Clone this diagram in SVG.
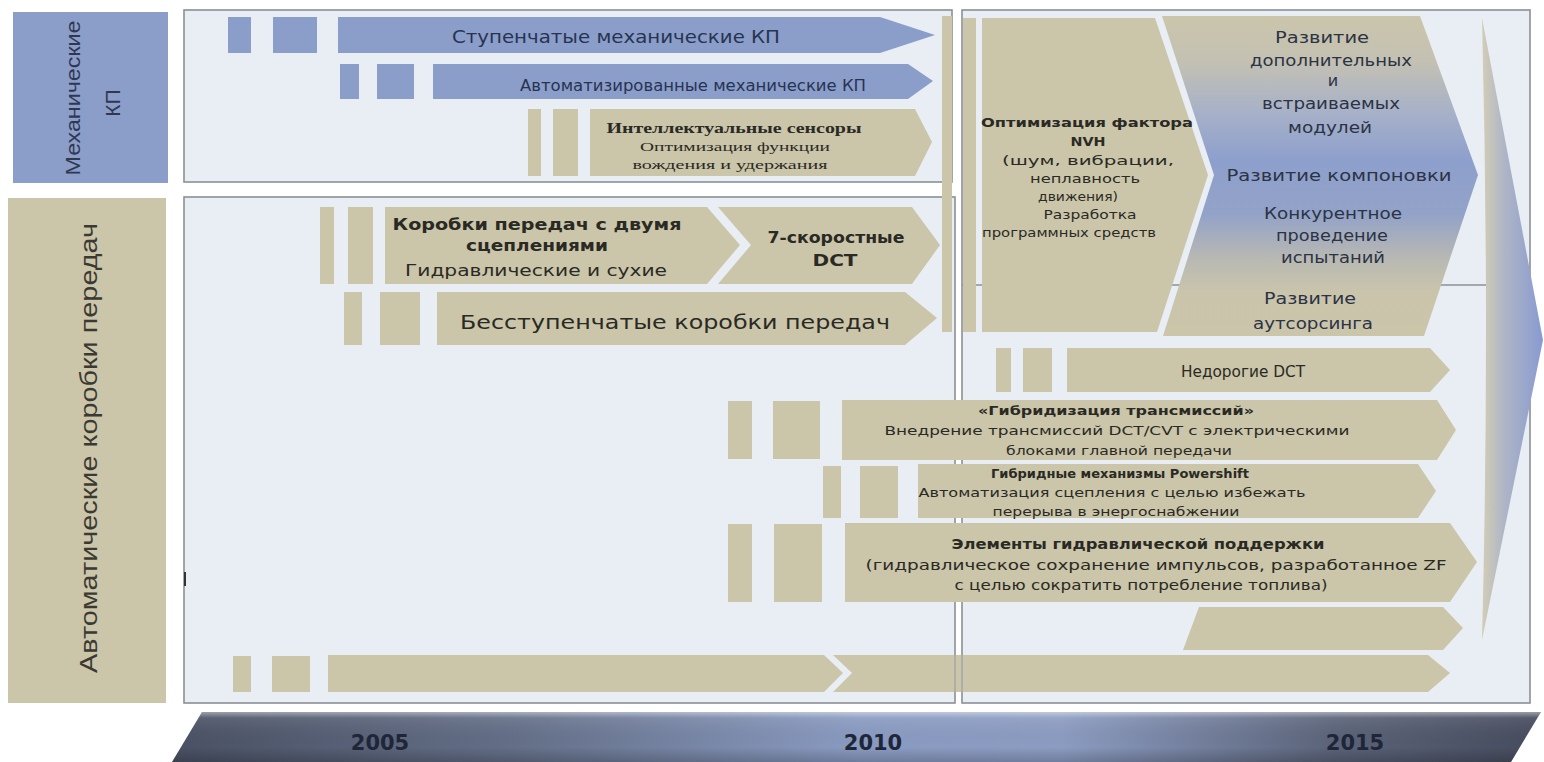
<svg xmlns="http://www.w3.org/2000/svg" width="1544" height="762" viewBox="0 0 1544 762">
<defs>
  <linearGradient id="gBT" x1="0" y1="0" x2="0" y2="1">
    <stop offset="0" stop-color="#cbc5ab"/>
    <stop offset="0.14" stop-color="#c4c1b3"/>
    <stop offset="0.3" stop-color="#a7b1c8"/>
    <stop offset="0.45" stop-color="#8d9fcc"/>
    <stop offset="0.62" stop-color="#93a2c7"/>
    <stop offset="0.76" stop-color="#b9b9b3"/>
    <stop offset="0.86" stop-color="#c9c4ab"/>
    <stop offset="1" stop-color="#cbc5aa"/>
  </linearGradient>
  <linearGradient id="gTri" x1="0" y1="0" x2="1" y2="0">
    <stop offset="0" stop-color="#d3cdb6"/>
    <stop offset="0.35" stop-color="#b0b6c6"/>
    <stop offset="1" stop-color="#889ad0"/>
  </linearGradient>
  <linearGradient id="gBar" x1="0" y1="0" x2="1" y2="0">
    <stop offset="0" stop-color="#4a5164"/>
    <stop offset="0.25" stop-color="#646f88"/>
    <stop offset="0.5" stop-color="#8a9bc2"/>
    <stop offset="0.65" stop-color="#8c9cc2"/>
    <stop offset="0.85" stop-color="#5b6379"/>
    <stop offset="1" stop-color="#464c5e"/>
  </linearGradient>
  <linearGradient id="gBarV" x1="0" y1="0" x2="0" y2="1">
    <stop offset="0" stop-color="#ffffff" stop-opacity="0.45"/>
    <stop offset="0.12" stop-color="#ffffff" stop-opacity="0.08"/>
    <stop offset="0.7" stop-color="#000000" stop-opacity="0"/>
    <stop offset="1" stop-color="#000000" stop-opacity="0.2"/>
  </linearGradient>
</defs>
<style>
  .panel{fill:#e8eef4;stroke:#8b9096;stroke-width:1.6}
  .tan{fill:#cbc5aa}
  .blue{fill:#8b9dc9}
  .sans{font-family:"DejaVu Sans","Liberation Sans",sans-serif}
  .serif{font-family:"Liberation Serif","DejaVu Serif",serif}
  .tb{fill:#263452}
  .tt{fill:#2a2a24}
  .tg{fill:#2b3345}
  .b{font-weight:bold}
  .mid{text-anchor:middle}
  .yr{font-family:"DejaVu Sans","Liberation Sans",sans-serif;font-weight:bold;font-size:21px;fill:#1e2638;text-anchor:middle}
  .lab{font-family:"Liberation Sans","Arial",sans-serif;text-anchor:middle}
</style>
<rect width="1544" height="762" fill="#ffffff"/>

<g id="label-mech">
  <rect x="13" y="12" width="155" height="171" class="blue"/>
  <text class="lab" font-size="21" fill="#2f3850" textLength="155" lengthAdjust="spacingAndGlyphs" transform="translate(80,98) rotate(-90)">Механические</text>
  <text class="lab" font-size="21" fill="#2f3850" transform="translate(120,103) rotate(-90)">КП</text>
</g>
<g id="label-auto">
  <rect x="8" y="198" width="158" height="505" class="tan"/>
  <text class="lab" font-size="23" fill="#3a3a33" textLength="450" lengthAdjust="spacingAndGlyphs" transform="translate(97,448) rotate(-90)">Автоматические коробки передач</text>
</g>

<g id="panels">
  <rect x="184" y="10" width="768" height="172" class="panel"/>
  <rect x="184" y="197" width="771" height="506" class="panel"/>
  <rect x="962" y="10" width="568" height="693" class="panel"/>
  <line x1="962" y1="285" x2="1530" y2="285" stroke="#8b9096" stroke-width="1.5"/>
  <path d="M185,572 L185,586" stroke="#333" stroke-width="2"/>
</g>

<g id="timeline">
  <path d="M202,712 H1541 L1511,762 H172 Z" fill="url(#gBar)"/>
  <path d="M202,712 H1541 L1511,762 H172 Z" fill="url(#gBarV)"/>
  <text class="yr" x="380" y="750">2005</text>
  <text class="yr" x="873" y="750">2010</text>
  <text class="yr" x="1355" y="750">2015</text>
</g>

<g id="big-arrow">
  <path d="M1482,18 L1543,340 L1482,640 Q1490,330 1482,18 Z" fill="url(#gTri)"/>
</g>

<g id="row-stupen">
  <rect x="228" y="17" width="23" height="36" class="blue"/>
  <rect x="273" y="17" width="44" height="36" class="blue"/>
  <path d="M338,17 H880 L935,35 L880,53 H338 Z" class="blue"/>
  <text class="sans tb mid" x="616" y="43" font-size="17" textLength="328" lengthAdjust="spacingAndGlyphs">Ступенчатые механические КП</text>
</g>

<g id="row-amt">
  <rect x="340" y="64" width="19" height="35" class="blue"/>
  <rect x="377" y="64" width="37" height="35" class="blue"/>
  <path d="M433,64 H908 L933,81 L908,99 H433 Z" class="blue"/>
  <text class="sans tb mid" x="693" y="91" font-size="16" textLength="346" lengthAdjust="spacingAndGlyphs">Автоматизированные механические КП</text>
</g>

<g id="row-sensors">
  <rect x="528" y="109" width="13" height="67" class="tan"/>
  <rect x="553" y="109" width="25" height="67" class="tan"/>
  <path d="M590,109 H915 L932,142 L915,176 H590 Z" class="tan"/>
  <text class="serif tt b mid" x="734" y="133" font-size="14" textLength="255" lengthAdjust="spacingAndGlyphs">Интеллектуальные сенсоры</text>
  <text class="serif tt mid" x="735" y="151" font-size="13" textLength="190" lengthAdjust="spacingAndGlyphs">Оптимизация функции</text>
  <text class="serif tt mid" x="730" y="169" font-size="13" textLength="195" lengthAdjust="spacingAndGlyphs">вождения и удержания</text>
</g>

<g id="row-dct">
  <rect x="320" y="207" width="14" height="77" class="tan"/>
  <rect x="348" y="207" width="25" height="77" class="tan"/>
  <path d="M385,207 H707 L740,245 L707,284 H385 Z" class="tan"/>
  <text class="sans tt b mid" x="537" y="230" font-size="16" textLength="289" lengthAdjust="spacingAndGlyphs">Коробки передач с двумя</text>
  <text class="sans tt b mid" x="537" y="251" font-size="16" textLength="142" lengthAdjust="spacingAndGlyphs">сцеплениями</text>
  <text class="sans tt mid" x="536" y="276" font-size="16" textLength="262" lengthAdjust="spacingAndGlyphs">Гидравлические и сухие</text>
</g>

<g id="row-dct7">
  <path d="M718,207 H912 L940,245 L912,284 H718 L751,245 Z" class="tan"/>
  <text class="sans tt b mid" x="836" y="243" font-size="16" textLength="137" lengthAdjust="spacingAndGlyphs">7-скоростные</text>
  <text class="sans tt b mid" x="835" y="266" font-size="16" textLength="45" lengthAdjust="spacingAndGlyphs">DCT</text>
</g>

<g id="row-cvt">
  <rect x="344" y="292" width="18" height="53" class="tan"/>
  <rect x="380" y="292" width="40" height="53" class="tan"/>
  <path d="M437,292 H905 L937,318 L905,345 H437 Z" class="tan"/>
  <text class="sans tt mid" x="675" y="329" font-size="19" textLength="430" lengthAdjust="spacingAndGlyphs">Бесступенчатые коробки передач</text>
</g>

<g id="row-nvh">
  <rect x="942" y="16" width="10" height="316" class="tan"/>
  <rect x="963" y="18" width="13" height="314" class="tan"/>
  <path d="M982,18 H1155 L1208,175 L1157,332 H982 Z" class="tan"/>
  <text class="sans tt b mid" x="1087" y="127" font-size="13" textLength="212" lengthAdjust="spacingAndGlyphs">Оптимизация фактора</text>
  <text class="sans tt b mid" x="1088" y="146" font-size="13" textLength="35" lengthAdjust="spacingAndGlyphs">NVH</text>
  <text class="sans tt mid" x="1088" y="165" font-size="13" textLength="172" lengthAdjust="spacingAndGlyphs">(шум, вибрации,</text>
  <text class="sans tt mid" x="1085" y="183" font-size="13" textLength="110" lengthAdjust="spacingAndGlyphs">неплавность</text>
  <text class="sans tt mid" x="1078" y="201" font-size="13" textLength="80" lengthAdjust="spacingAndGlyphs">движения)</text>
  <text class="sans tt mid" x="1090" y="219" font-size="13" textLength="93" lengthAdjust="spacingAndGlyphs">Разработка</text>
  <text class="sans tt mid" x="1069" y="237" font-size="13" textLength="174" lengthAdjust="spacingAndGlyphs">программных средств</text>
</g>

<g id="row-develop">
  <path d="M1162,16 H1420 L1478,175 L1424,336 H1163 L1214,175 Z" fill="url(#gBT)"/>
  <text class="sans tg mid" x="1322" y="43" font-size="16" textLength="94" lengthAdjust="spacingAndGlyphs">Развитие</text>
  <text class="sans tg mid" x="1331" y="66" font-size="16" textLength="162" lengthAdjust="spacingAndGlyphs">дополнительных</text>
  <text class="sans tg mid" x="1333" y="86" font-size="16">и</text>
  <text class="sans tg mid" x="1331" y="109" font-size="16" textLength="138" lengthAdjust="spacingAndGlyphs">встраиваемых</text>
  <text class="sans tg mid" x="1330" y="133" font-size="16" textLength="84" lengthAdjust="spacingAndGlyphs">модулей</text>
  <text class="sans tg mid" x="1339" y="181" font-size="16" textLength="225" lengthAdjust="spacingAndGlyphs">Развитие компоновки</text>
  <text class="sans tg mid" x="1333" y="219" font-size="16" textLength="138" lengthAdjust="spacingAndGlyphs">Конкурентное</text>
  <text class="sans tg mid" x="1332" y="241" font-size="16" textLength="112" lengthAdjust="spacingAndGlyphs">проведение</text>
  <text class="sans tg mid" x="1333" y="263" font-size="16" textLength="104" lengthAdjust="spacingAndGlyphs">испытаний</text>
  <text class="sans tg mid" x="1310" y="304" font-size="16" textLength="92" lengthAdjust="spacingAndGlyphs">Развитие</text>
  <text class="sans tg mid" x="1313" y="329" font-size="16" textLength="120" lengthAdjust="spacingAndGlyphs">аутсорсинга</text>
</g>

<g id="row-cheapdct">
  <rect x="996" y="348" width="15" height="44" class="tan"/>
  <rect x="1023" y="348" width="29" height="44" class="tan"/>
  <path d="M1067,348 H1430 L1450,370 L1430,392 H1067 Z" class="tan"/>
  <text class="sans tt mid" x="1243" y="377" font-size="16" textLength="124" lengthAdjust="spacingAndGlyphs">Недорогие DCT</text>
</g>

<g id="row-hybrid">
  <rect x="728" y="401" width="24" height="58" class="tan"/>
  <rect x="773" y="401" width="47" height="58" class="tan"/>
  <path d="M842,400 H1437 L1456,430 L1437,460 H842 Z" class="tan"/>
  <text class="sans tt b mid" x="1116" y="415" font-size="13" textLength="276" lengthAdjust="spacingAndGlyphs">«Гибридизация трансмиссий»</text>
  <text class="sans tt mid" x="1117" y="435" font-size="13" textLength="465" lengthAdjust="spacingAndGlyphs">Внедрение трансмиссий DCT/CVT с электрическими</text>
  <text class="sans tt mid" x="1119" y="455" font-size="13" textLength="226" lengthAdjust="spacingAndGlyphs">блоками главной передачи</text>
</g>

<g id="row-powershift">
  <rect x="823" y="466" width="18" height="52" class="tan"/>
  <rect x="860" y="466" width="38" height="52" class="tan"/>
  <path d="M918,464 H1418 L1436,491 L1418,518 H918 Z" class="tan"/>
  <text class="sans tt b mid" x="1120" y="478" font-size="12.5" textLength="258" lengthAdjust="spacingAndGlyphs">Гибридные механизмы Powershift</text>
  <text class="sans tt mid" x="1112" y="497" font-size="12.5" textLength="387" lengthAdjust="spacingAndGlyphs">Автоматизация сцепления с целью избежать</text>
  <text class="sans tt mid" x="1116" y="516" font-size="12.5" textLength="247" lengthAdjust="spacingAndGlyphs">перерыва в энергоснабжении</text>
</g>

<g id="row-hydraulic">
  <rect x="728" y="524" width="24" height="78" class="tan"/>
  <rect x="774" y="524" width="48" height="78" class="tan"/>
  <path d="M845,523 H1450 L1477,562 L1450,602 H845 Z" class="tan"/>
  <text class="sans tt b mid" x="1138" y="549" font-size="14" textLength="373" lengthAdjust="spacingAndGlyphs">Элементы гидравлической поддержки</text>
  <text class="sans tt mid" x="1156" y="570" font-size="13.5" textLength="581" lengthAdjust="spacingAndGlyphs">(гидравлическое сохранение импульсов, разработанное ZF</text>
  <text class="sans tt mid" x="1141" y="590" font-size="13.5" textLength="373" lengthAdjust="spacingAndGlyphs">с целью сократить потребление топлива)</text>
</g>

<g id="row-empty">
  <path d="M1199,607 H1443 L1463,628 L1443,650 H1183 Z" class="tan"/>
</g>

<g id="row-bottom">
  <rect x="233" y="656" width="18" height="36" class="tan"/>
  <rect x="272" y="656" width="38" height="36" class="tan"/>
  <path d="M328,655 H824 L843,673 L824,692 H328 Z" class="tan"/>
  <path d="M833,655 H1428 L1450,673 L1428,692 H833 L852,673 Z" class="tan"/>
  <line x1="955" y1="655" x2="955" y2="692" stroke="#9a9ea3" stroke-width="1.2"/>
  <line x1="962" y1="655" x2="962" y2="692" stroke="#9a9ea3" stroke-width="1.2"/>
</g>
</svg>
